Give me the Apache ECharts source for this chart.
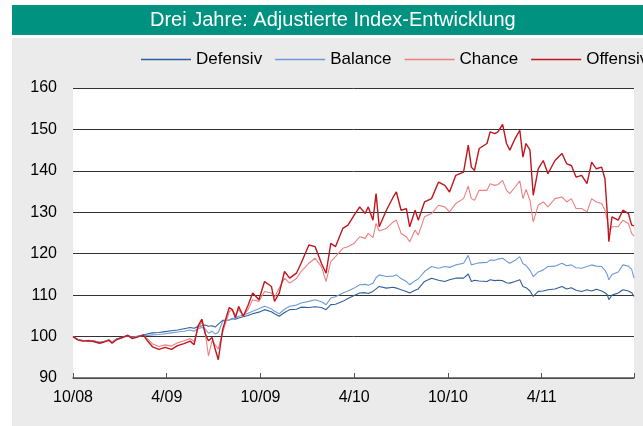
<!DOCTYPE html>
<html>
<head>
<meta charset="utf-8">
<style>
  html, body { margin: 0; padding: 0; background: #fff; }
  #main { width: 643px; height: 426px; }
</style>
</head>
<body>
<div id="main"></div>
<script src="https://cdn.jsdelivr.net/npm/echarts/dist/echarts.min.js"></script>
<script>
// months after 10/08
var months = [0, 0.3, 0.6, 1.0, 1.3, 1.7, 2.0, 2.3, 2.5, 2.8, 3.2, 3.5, 3.8, 4.2, 4.5, 4.8, 5.1, 5.5, 5.9, 6.3,
  6.7, 7.1, 7.5, 7.75, 8.0, 8.25, 8.45, 8.67, 8.9, 9.1, 9.3, 9.58, 10.0, 10.2, 10.4, 10.6, 10.9, 11.2, 11.5, 11.9,
  12.26, 12.7, 12.9, 13.2, 13.54, 13.87, 14.3, 14.6, 15.1, 15.5, 15.9, 16.2, 16.5, 16.8, 17.27, 17.6, 18.0, 18.35, 18.7, 18.9,
  19.2, 19.4, 19.6, 20.06, 20.5, 20.7, 21.0, 21.34, 21.55, 21.9, 22.1, 22.5, 22.95, 23.4, 23.8, 24.1, 24.5, 25.0, 25.3, 25.5,
  25.7, 26.0, 26.5, 26.7, 27.0, 27.2, 27.5, 27.75, 27.96, 28.3, 28.6, 28.8, 29.0, 29.25, 29.46, 29.78, 30.1, 30.4, 30.85, 31.3,
  31.6, 31.9, 32.2, 32.56, 32.9, 33.2, 33.5, 33.84, 34.05, 34.2, 34.3, 34.5, 34.9, 35.2, 35.55, 35.76, 35.91];

var defensiv = [100, 99.3, 99.1, 99.0, 99.0, 98.6, 98.8, 99.2, 98.7, 99.4, 99.9, 100.3, 99.8, 100.1, 100.4, 100.7, 100.9, 101.0, 101.2, 101.4,
  101.6, 101.9, 102.2, 102.0, 102.4, 102.6, 102.8, 102.5, 102.6, 102.3, 103.0, 103.9, 104.0, 104.3, 104.2, 104.5, 104.8, 105.1, 105.5, 105.9,
  106.5, 106.0, 105.5, 104.9, 105.8, 106.5, 106.6, 107.1, 107.0, 107.2, 107.0, 106.5, 107.7, 107.8, 108.5, 109.2, 109.9, 110.5, 110.6, 110.4,
  110.9, 111.5, 112.1, 111.7, 111.9, 111.7, 111.3, 110.9, 110.5, 111.2, 111.5, 113.3, 114.1, 113.6, 113.3, 113.7, 114.1, 114.1, 115.1, 113.3,
  113.6, 113.4, 113.3, 113.7, 113.5, 113.6, 113.5, 113.0, 112.9, 113.3, 113.7, 112.1, 111.8, 111.0, 109.7, 110.9, 111.0, 111.3, 111.5, 112.1,
  111.5, 111.8, 111.2, 110.9, 111.3, 111.0, 111.4, 111.0, 110.6, 110.1, 108.9, 110.0, 110.5, 111.3, 111.0, 110.6, 109.7];

var balance = [100, 99.3, 99.1, 99.0, 99.0, 98.6, 98.8, 99.2, 98.7, 99.4, 99.9, 100.3, 99.8, 100.1, 100.3, 100.3, 100.4, 100.5, 100.7, 100.9,
  101.1, 101.3, 101.6, 101.3, 101.9, 102.2, 101.9, 100.8, 101.3, 100.6, 101.0, 103.7, 104.0, 104.4, 104.5, 104.9, 105.2, 105.6, 106.1, 106.7,
  107.3, 106.7, 106.1, 105.5, 106.6, 107.3, 107.6, 108.1, 108.5, 108.9, 108.4, 107.7, 109.3, 109.6, 110.5, 111.0, 111.7, 112.5, 112.6, 112.4,
  112.9, 114.2, 114.9, 114.5, 114.6, 114.9, 114.0, 113.3, 112.5, 113.5, 113.9, 115.7, 116.9, 116.5, 116.9, 116.7, 117.3, 117.7, 119.6, 117.3,
  117.5, 117.8, 117.9, 118.5, 118.4, 118.7, 118.9, 118.2, 117.7, 118.4, 119.3, 117.6, 117.2, 116.0, 114.5, 115.6, 116.1, 116.9, 117.0, 117.7,
  117.1, 117.3, 116.6, 116.5, 116.9, 117.3, 117.0, 116.9, 116.0, 114.9, 113.7, 115.0, 115.6, 117.3, 117.0, 116.2, 114.1];

var chance = [100, 99.3, 99.0, 99.1, 98.9, 98.5, 98.8, 99.2, 98.6, 99.3, 99.8, 100.2, 99.6, 100.0, 100.3, 99.3, 98.2, 97.6, 98.0, 97.7,
  98.5, 99.0, 99.5, 98.8, 101.8, 103.6, 101.5, 95.3, 99.0, 98.0, 97.0, 101.0, 106.0, 106.5, 105.2, 106.5, 105.0, 106.5, 108.9, 108.5,
  110.9, 110.5, 109.5, 111.7, 114.1, 112.9, 114.0, 115.7, 117.7, 118.9, 116.9, 113.3, 118.1, 119.3, 121.3, 121.7, 122.5, 124.1, 123.7, 124.9,
  123.9, 127.3, 125.5, 126.1, 127.7, 128.1, 124.9, 124.1, 122.9, 125.7, 124.5, 128.9, 129.7, 131.7, 131.3, 130.1, 132.1, 133.3, 136.3, 133.3,
  132.9, 135.3, 135.3, 136.9, 136.5, 136.7, 137.7, 135.3, 134.5, 136.1, 137.6, 133.3, 135.5, 132.9, 127.7, 131.7, 132.5, 131.3, 133.3, 133.7,
  132.5, 133.3, 130.9, 130.9, 130.1, 133.3, 132.5, 132.1, 130.5, 128.1, 125.7, 126.5, 126.5, 128.1, 127.3, 124.9, 124.3];

var offensiv = [100, 99.2, 98.9, 99.0, 98.8, 98.4, 98.7, 99.1, 98.4, 99.3, 99.8, 100.3, 99.5, 100.0, 100.4, 98.8, 97.5, 96.9, 97.4, 96.9,
  97.8, 98.3, 98.9, 98.0, 102.5, 104.2, 100.8, 99.0, 99.8, 97.0, 94.4, 101.7, 107.0, 106.5, 104.5, 107.3, 104.9, 107.5, 110.5, 108.9,
  113.3, 112.1, 108.5, 110.5, 115.7, 114.1, 115.3, 117.7, 122.1, 121.7, 117.7, 115.3, 122.5, 121.7, 126.1, 126.9, 129.3, 131.3, 129.7, 131.3,
  128.1, 134.5, 126.5, 130.5, 133.7, 134.9, 130.5, 130.9, 126.5, 130.5, 128.1, 132.5, 133.3, 137.3, 136.5, 134.9, 138.9, 139.7, 146.2, 140.9,
  140.1, 145.4, 146.6, 149.4, 149.0, 149.4, 151.2, 146.6, 145.0, 147.8, 149.8, 143.3, 146.6, 145.0, 134.1, 140.5, 142.5, 139.3, 142.5, 144.2,
  141.7, 141.3, 138.5, 138.9, 136.9, 142.1, 140.5, 140.9, 138.1, 129.7, 122.9, 128.9, 128.1, 130.5, 129.7, 126.9, 126.7];

var seriesNames = ['Defensiv', 'Balance', 'Chance', 'Offensiv'];
var seriesColors = ['#2f5f9a', '#6e9bd6', '#ee8080', '#c0161e'];
var xTickLabels = ['10/08', '4/09', '10/09', '4/10', '10/10', '4/11'];

function pairs(vals) {
  return months.map(function (m, i) { return [m, vals[i]]; });
}

var allValues = [defensiv, balance, chance, offensiv];
var font = "'Liberation Sans', Arial, sans-serif";

var myChart = echarts.init(document.getElementById('main'));
myChart.setOption({
  animation: false,
  backgroundColor: '#fff',
  graphic: [
    { type: 'rect', z: -10, shape: { x: 12, y: 5, width: 640, height: 30 }, style: { fill: '#009280' } },
    { type: 'rect', z: -10, shape: { x: 12, y: 38, width: 640, height: 390 }, style: { fill: '#ebebeb' } }
  ],
  title: {
    text: 'Drei Jahre: Adjustierte Index-Entwicklung',
    left: 150,
    top: 10,
    padding: 0,
    textStyle: { color: '#fff', fontSize: 20, fontWeight: 'normal', fontFamily: font }
  },
  legend: {
    data: seriesNames,
    icon: 'rect',
    left: 141,
    top: 51,
    width: 700,
    padding: 0,
    itemWidth: 50,
    itemHeight: 1.5,
    itemGap: 13,
    textStyle: { color: '#000', fontSize: 17, fontFamily: font }
  },
  grid: {
    left: 73, right: 9, top: 88, bottom: 48,
    show: true, backgroundColor: '#fff', borderWidth: 0
  },
  xAxis: {
    type: 'value',
    min: 0,
    max: 35.91,
    interval: 6,
    axisLine: { lineStyle: { color: '#555', width: 1.5 } },
    axisTick: { inside: true, length: 5, lineStyle: { color: '#555' } },
    axisLabel: {
      margin: 12,
      color: '#000',
      fontSize: 16,
      fontFamily: font,
      formatter: function (v) { return xTickLabels[Math.round(v / 6)] || ''; }
    },
    splitLine: { show: false }
  },
  yAxis: {
    type: 'value',
    min: 90,
    max: 160,
    interval: 10,
    axisLine: { show: false },
    axisTick: { show: false },
    axisLabel: { margin: 16, color: '#000', fontSize: 16, fontFamily: font },
    splitLine: { lineStyle: { color: '#333', width: 1 } }
  },
  series: seriesNames.map(function (name, i) {
    return {
      name: name,
      type: 'line',
      symbol: 'none',
      color: seriesColors[i],
      lineStyle: { width: i === 3 ? 1.4 : 1.1, color: seriesColors[i] },
      data: pairs(allValues[i])
    };
  })
});
</script>
</body>
</html>
